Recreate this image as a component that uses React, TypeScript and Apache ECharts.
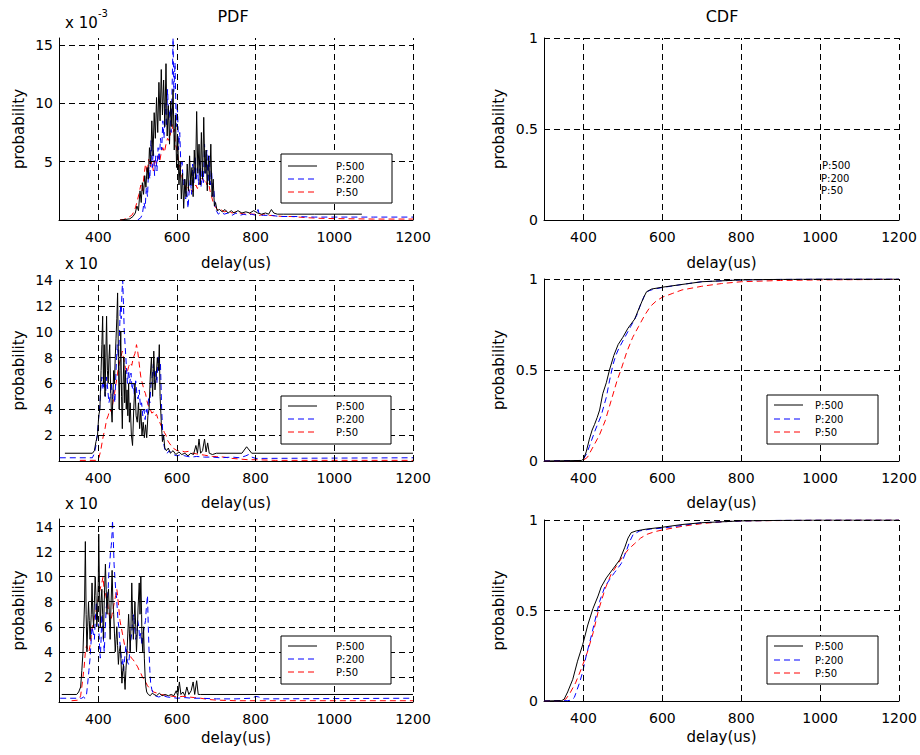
import React, { useEffect, useRef } from "react";
import * as echarts from "echarts";

// ---------- tick values ----------
const xLabelTicks = [400, 600, 800, 1000, 1200];
const yTicksPdfTop = [5, 10, 15];
const yTicksPdfLow = [2, 4, 6, 8, 10, 12, 14];
const yTicksCdf = [0, 0.5, 1];
const legendNames = ["P:500", "P:200", "P:50"];

// ---------- PDF row 1 (x 10^-3) ----------
const pdf1_500 = [[455,0],[470,0.05],[480,0.1],[488,0.3],[494,0.6],[498,1.2],[502,0.8],[506,2.5],[509,1.5],[512,3.2],[515,2.2],[518,3.8],[521,2.8],[524,4.5],[527,3.5],[530,6.2],[533,4.8],[536,8.5],[539,5.5],[542,9.2],[545,7],[548,10.5],[551,7.5],[554,11.8],[557,8.5],[560,12.9],[563,9],[566,12],[569,8],[572,13.4],[575,7.2],[578,9.8],[581,6.5],[584,10.2],[587,8],[590,11.2],[593,6],[596,9],[599,4.5],[602,7],[605,3],[608,5],[611,1.8],[614,4],[617,1],[620,3.5],[623,2],[626,4.8],[629,2.5],[632,5.5],[635,3],[638,4.5],[641,2],[644,6],[647,3.5],[650,9.3],[653,4],[656,6.5],[659,3],[662,7.5],[665,3.5],[668,8.8],[671,4],[674,6],[677,2.5],[680,5.5],[683,3],[686,6.5],[689,2],[692,3.5],[695,1.2],[698,1.5],[702,0.8],[708,0.9],[715,0.7],[722,0.9],[730,0.6],[738,0.8],[745,0.6],[755,0.8],[765,0.6],[775,0.7],[785,0.6],[795,0.8],[805,0.6],[815,0.5],[825,0.6],[833,0.5],[840,0.9],[846,0.6],[855,0.5],[870,0.5],[900,0.5],[950,0.5],[1000,0.5],[1070,0.5]];
const pdf1_200 = [[500,0],[508,0.2],[512,0.5],[516,1.5],[519,1],[522,2.8],[525,2],[528,4.5],[531,3.5],[534,6.8],[537,4.5],[540,6],[543,3.8],[546,5.5],[549,4.2],[552,6.2],[555,5],[558,7],[561,6],[564,8.5],[567,7],[570,10],[573,8],[576,11.2],[579,8.5],[582,9.5],[585,7.5],[588,12],[590,15.6],[592,11],[595,13.5],[598,8],[601,10],[604,6],[607,7.5],[610,4.5],[613,5],[616,3],[619,3.5],[622,1.8],[625,2.5],[628,1],[631,2.5],[634,3.5],[637,2.2],[640,4.8],[643,3.2],[646,5.5],[649,3.5],[652,4.5],[655,3],[658,5],[661,2.8],[664,4.5],[667,3.2],[670,6.5],[673,4],[676,6],[679,3.2],[682,5.5],[685,3],[688,4.2],[691,2],[694,2.5],[697,1],[700,0.8],[705,0.5],[712,0.7],[720,0.5],[730,0.6],[740,0.4],[750,0.6],[760,0.4],[770,0.5],[780,0.4],[790,0.5],[800,0.4],[806,0.9],[810,0.4],[820,0.4],[840,0.4],[860,0.3],[900,0.3],[950,0.25],[1000,0.25],[1100,0.25],[1200,0.25]];
const pdf1_50 = [[455,0],[465,0.05],[475,0.2],[485,0.4],[492,0.8],[498,1.5],[503,2.2],[508,3],[512,2.5],[516,3.8],[520,4.8],[524,4],[528,5.2],[532,4.5],[536,5],[540,4.2],[544,5.3],[548,4.8],[552,5.5],[556,5],[560,5.8],[564,6.2],[568,5.8],[572,6.5],[576,7],[580,6.8],[584,7.5],[587,8.2],[590,7.5],[593,7.8],[596,6.5],[600,6],[604,5],[608,4.5],[612,3.8],[616,3.2],[620,3],[624,2.5],[628,2.8],[632,2.3],[636,2.6],[640,2.4],[644,2.8],[648,3],[652,2.7],[656,3.2],[660,3],[664,3.6],[668,3.3],[672,3.5],[676,3],[680,3.2],[684,2.5],[688,2],[692,1.5],[696,1.2],[700,1],[706,0.8],[712,0.9],[720,0.7],[730,0.8],[740,0.6],[750,0.7],[760,0.6],[770,0.5],[780,0.6],[790,0.5],[800,0.5],[810,0.4],[820,0.5],[835,0.4],[850,0.35],[870,0.3],[890,0.3],[910,0.25],[930,0.2],[960,0.15],[1000,0.12],[1050,0.1],[1100,0.08],[1200,0.08]];

// ---------- PDF row 2 (x 10) ----------
const pdf2_500 = [[315,0.6],[385,0.6],[390,0.8],[394,1.5],[398,2],[401,3.5],[404,4],[407,7],[409,9],[411,11.2],[413,6],[415,9],[417,5],[419,8],[421,11.2],[423,7],[425,6],[427,8],[429,9],[431,6],[433,4],[435,3],[437,5],[439,7],[441,6],[443,8],[445,9.5],[447,11],[449,13],[451,8],[453,4],[455,7],[457,10],[459,5],[461,2.5],[463,6],[465,8],[467,4.5],[469,7],[471,4],[473,5.5],[475,3.5],[477,6],[479,3],[481,4.5],[484,2],[487,1.2],[490,4],[493,6],[496,3.5],[499,3],[502,4.5],[505,2.5],[508,4],[511,2],[514,3],[517,1.8],[520,2.8],[523,1.8],[526,3.5],[529,4],[532,6.5],[535,8],[538,5],[541,8.5],[544,5.5],[547,6.5],[550,8],[553,7],[555,9],[557,5],[560,3],[563,1.5],[566,2],[569,1],[573,0.8],[578,1],[583,0.6],[590,0.8],[597,0.5],[605,0.7],[612,0.5],[620,0.6],[628,0.4],[635,0.6],[642,0.5],[648,1.2],[652,0.6],[656,1.7],[660,0.6],[665,0.8],[670,1.7],[674,0.7],[678,1.4],[682,0.6],[690,0.5],[700,0.6],[765,0.6],[777,1.1],[790,0.6],[1200,0.6]];
const pdf2_200 = [[302,0.25],[385,0.25],[390,0.6],[394,1.2],[397,2],[400,3],[403,4],[406,5.5],[409,6.5],[412,5.5],[415,6.3],[418,5],[421,6.5],[424,5.5],[427,4.5],[430,5],[433,6],[436,4.8],[439,5.5],[442,4.5],[445,7],[448,9],[451,8],[454,10],[456,12],[458,11],[460,13],[462,14],[464,12],[466,10],[468,9],[471,7.5],[474,6],[477,7],[480,6],[483,6.8],[486,5.5],[489,6],[492,5],[495,6.2],[498,5.2],[501,4.8],[504,5.5],[507,4.2],[510,4.5],[513,3.5],[516,4],[519,3.2],[522,4],[525,3.5],[528,5],[531,4.5],[534,6],[537,6.5],[540,7.5],[543,6],[546,7],[549,6],[552,8.2],[555,7],[558,7.5],[561,4],[564,2],[567,1.2],[570,0.8],[575,0.6],[580,0.8],[590,0.5],[600,0.4],[610,0.5],[620,0.4],[635,0.3],[650,0.35],[670,0.3],[690,0.3],[710,0.25],[740,0.3],[760,0.25],[775,0.4],[782,0.5],[790,0.3],[800,0.2],[1200,0.25]];
const pdf2_50 = [[353,0.05],[398,0.05],[402,0.3],[406,0.8],[410,1.5],[413,2],[417,2.5],[421,3.2],[425,3.5],[429,4],[433,3.8],[437,4.5],[441,5.2],[445,6],[449,6.8],[453,7.5],[457,8],[461,8.5],[465,7.8],[469,7.2],[473,6.8],[477,7.3],[481,7.6],[485,7.4],[489,8],[493,8.3],[497,9],[500,8.5],[504,7.5],[508,6.5],[512,6],[516,5.5],[520,5.2],[524,4.6],[528,4.2],[532,4],[536,3.7],[540,3.8],[544,3.5],[548,3.6],[552,3.2],[556,3],[560,2.7],[564,2.5],[568,2.2],[572,2],[576,1.6],[580,1.4],[585,1.2],[590,1],[595,0.9],[600,0.8],[610,0.8],[620,0.7],[630,0.75],[640,0.6],[650,0.55],[660,0.5],[670,0.45],[680,0.4],[690,0.35],[700,0.35],[720,0.3],[740,0.2],[760,0.15],[780,0.1],[800,0.1],[850,0.05],[1200,0.05]];

// ---------- PDF row 3 (x 10) ----------
const pdf3_500 = [[307,0.6],[345,0.6],[350,0.8],[355,1.2],[358,2.5],[361,4],[363,6],[365,8],[367,12.8],[369,7],[371,4],[373,6],[375,8],[377,6.5],[379,5],[382,7],[384,9.5],[386,7],[388,6],[390,8],[392,10],[394,8.5],[396,6],[398,7],[400,10],[401,13.4],[403,9],[405,6],[407,8],[409,9],[411,7],[413,5],[415,8],[418,11],[420,9],[422,7],[424,8.5],[426,9],[428,7],[430,5],[432,7.5],[435,10.5],[437,8],[439,7],[441,5.5],[443,4],[445,5],[447,6],[449,4.5],[451,3],[453,4],[456,4.5],[458,3],[460,1.5],[462,2.5],[464,3],[466,2],[468,1],[470,2.5],[473,4],[475,5.5],[477,7],[479,5.5],[481,4],[483,6],[485,9.5],[487,7],[489,5],[491,6.5],[493,8],[495,6],[497,4],[499,5.5],[501,7.5],[504,9.5],[506,7],[508,10],[510,7],[511,5],[513,4],[515,6],[517,3.5],[519,2],[521,1.2],[523,0.8],[527,0.6],[532,0.5],[537,0.7],[542,0.6],[548,0.5],[555,0.7],[562,0.5],[570,0.6],[578,0.5],[585,0.6],[592,0.5],[598,0.9],[602,0.5],[606,1.6],[610,0.6],[615,0.8],[620,0.5],[625,1.2],[630,0.6],[636,0.9],[641,1.6],[645,0.6],[650,1.7],[654,0.6],[660,0.6],[1200,0.6]];
const pdf3_200 = [[303,0.3],[358,0.3],[362,0.4],[366,0.3],[370,0.6],[373,1.5],[376,2.5],[379,3.5],[382,5],[384,6],[387,5.5],[390,5],[393,7],[395,8],[398,6.5],[401,6],[403,4.5],[405,3.5],[407,5],[409,7],[412,5.5],[415,4],[418,6],[420,7.5],[422,8],[425,9],[427,10.5],[429,11],[431,12],[433,12.5],[435,13.5],[436,14.5],[438,13],[440,11],[442,10],[444,9],[446,8.5],[448,7.5],[450,6.5],[452,6],[454,5],[457,4],[460,3],[462,3.5],[464,2.5],[467,3.5],[470,4.5],[472,3.8],[474,3.2],[477,3],[480,4],[483,5],[485,5.5],[487,6.5],[490,7],[492,6],[495,5],[498,5.5],[500,6.5],[503,6],[505,5],[508,5.5],[511,4.5],[514,5.5],[517,6],[520,6.5],[522,7.5],[525,8.5],[527,6],[529,4],[531,2.5],[533,1.5],[536,1],[540,0.6],[545,0.5],[553,0.4],[565,0.5],[575,0.4],[590,0.35],[600,0.3],[620,0.35],[640,0.3],[660,0.3],[700,0.25],[750,0.25],[790,0.3],[800,0.45],[808,0.4],[820,0.25],[1200,0.3]];
const pdf3_50 = [[332,0.1],[350,0.15],[355,0.5],[358,1.2],[361,2],[364,2.8],[367,4],[370,4.5],[373,4.2],[376,4],[379,4.5],[382,5.2],[385,6],[388,6.5],[391,7],[394,7.2],[397,7.8],[400,8.2],[403,8.8],[406,9.2],[409,9.5],[412,10],[414,9.2],[416,8.5],[418,8.8],[420,8.3],[423,8],[426,7.2],[429,6.8],[432,6.5],[435,7],[438,7.5],[441,8],[444,8.5],[447,9],[449,8.5],[452,7.5],[455,6.5],[458,6],[461,5.5],[464,5],[467,4.5],[470,4.2],[473,4],[476,4],[480,3.8],[484,3.5],[488,3.4],[492,3.2],[496,3],[500,2.8],[504,2.5],[508,2.3],[512,2],[516,1.8],[520,1.6],[525,1.3],[530,1.1],[535,1],[540,0.8],[550,0.7],[560,0.6],[570,0.55],[580,0.5],[590,0.45],[600,0.4],[615,0.45],[630,0.4],[645,0.35],[660,0.3],[680,0.2],[700,0.15],[750,0.1],[800,0.1],[1200,0.1]];

// ---------- CDF row 2 ----------
const cdf2_500 = [[300,0],[395,0.003],[400,0.01],[407,0.05],[415,0.12],[422,0.17],[428,0.2],[435,0.24],[441,0.28],[449,0.37],[458,0.43],[466,0.5],[477,0.58],[488,0.64],[500,0.68],[513,0.73],[530,0.78],[543,0.85],[553,0.9],[560,0.93],[573,0.945],[600,0.955],[650,0.97],[700,0.985],[750,0.99],[800,0.995],[900,0.998],[1000,1],[1200,1]];
const cdf2_200 = [[300,0],[395,0.003],[400,0.01],[408,0.04],[415,0.08],[430,0.17],[445,0.25],[458,0.35],[466,0.44],[475,0.53],[482,0.58],[490,0.62],[505,0.68],[520,0.74],[535,0.8],[545,0.86],[555,0.91],[565,0.935],[580,0.945],[600,0.953],[650,0.97],[700,0.985],[750,0.99],[800,0.995],[900,0.998],[1000,1],[1200,1]];
const cdf2_50 = [[300,0],[390,0.002],[400,0.005],[410,0.02],[425,0.08],[440,0.14],[455,0.22],[470,0.33],[485,0.44],[495,0.5],[510,0.6],[525,0.68],[540,0.74],[555,0.8],[570,0.85],[585,0.88],[600,0.9],[625,0.92],[650,0.94],[700,0.96],[750,0.975],[800,0.985],[900,0.992],[1000,0.995],[1200,0.998]];

// ---------- CDF row 3 ----------
const cdf3_500 = [[300,0],[345,0.002],[351,0.01],[360,0.05],[373,0.12],[385,0.22],[398,0.31],[411,0.42],[424,0.51],[437,0.58],[445,0.63],[458,0.68],[475,0.73],[492,0.78],[505,0.85],[513,0.9],[521,0.93],[534,0.94],[560,0.95],[600,0.96],[650,0.975],[700,0.985],[800,0.995],[900,0.998],[1000,1],[1200,1]];
const cdf3_200 = [[300,0],[360,0.002],[370,0.005],[377,0.02],[390,0.1],[398,0.16],[407,0.25],[420,0.36],[432,0.47],[441,0.55],[454,0.63],[466,0.67],[479,0.71],[496,0.76],[509,0.83],[517,0.88],[526,0.92],[543,0.94],[570,0.95],[600,0.955],[650,0.97],[700,0.985],[800,0.995],[900,0.998],[1000,1],[1200,1]];
const cdf3_50 = [[300,0],[350,0.002],[355,0.01],[365,0.04],[380,0.1],[395,0.18],[410,0.27],[425,0.38],[438,0.5],[455,0.62],[470,0.7],[485,0.75],[500,0.8],[515,0.84],[530,0.87],[545,0.9],[560,0.92],[580,0.935],[600,0.945],[650,0.965],[700,0.98],[750,0.99],[800,0.995],[1000,0.999],[1200,1]];

const FONT = "'DejaVu Sans', 'Liberation Sans', Arial, sans-serif";
const COLORS = ["#000000", "#0000ff", "#ff0000"];
const DASH = [6, 4];

export default function App() {
  const ref = useRef<HTMLDivElement>(null);

  useEffect(() => {
    if (!ref.current) return;
    const chart = echarts.init(ref.current, undefined, { renderer: "svg" });

    const panels = [
      { left: 59, top: 38, width: 354, height: 182, ymax: 15.6, yint: 5, yTicks: yTicksPdfTop, series: [pdf1_500, pdf1_200, pdf1_50], nameGap: 35, yGap: 33 },
      { left: 59, top: 280, width: 354, height: 181, ymax: 14, yint: 2, yTicks: yTicksPdfLow, series: [pdf2_500, pdf2_200, pdf2_50], nameGap: 34, yGap: 33 },
      { left: 59, top: 519, width: 354, height: 183, ymax: 14.6, yint: 2, yTicks: yTicksPdfLow, series: [pdf3_500, pdf3_200, pdf3_50], nameGap: 28, yGap: 33 },
      { left: 544, top: 38, width: 355, height: 182, ymax: 1, yint: 0.5, yTicks: yTicksCdf, series: [], nameGap: 35, yGap: 38 },
      { left: 544, top: 279, width: 355, height: 182, ymax: 1, yint: 0.5, yTicks: yTicksCdf, series: [cdf2_500, cdf2_200, cdf2_50], nameGap: 34, yGap: 38 },
      { left: 544, top: 520, width: 355, height: 181, ymax: 1, yint: 0.5, yTicks: yTicksCdf, series: [cdf3_500, cdf3_200, cdf3_50], nameGap: 28, yGap: 38 },
    ];

    const grid = panels.map((p) => ({ left: p.left, top: p.top, width: p.width, height: p.height }));

    const xAxis = panels.map((p, i) => ({
      type: "value",
      gridIndex: i,
      min: 300,
      max: 1200,
      interval: 100,
      name: "delay(us)",
      nameLocation: "middle",
      nameGap: p.nameGap,
      nameTextStyle: { color: "#000", fontSize: 15, fontFamily: FONT },
      axisLine: { show: true, onZero: false, lineStyle: { color: "#000", width: 1 } },
      axisTick: { show: false },
      splitLine: { show: false },
      axisLabel: {
        show: true,
        showMinLabel: true,
        showMaxLabel: true,
        color: "#000",
        fontSize: 14,
        fontFamily: FONT,
        margin: 10,
        formatter: (v: number) => (xLabelTicks.includes(Math.round(v)) ? String(Math.round(v)) : ""),
      },
    }));

    const yAxis = panels.map((p, i) => ({
      type: "value",
      gridIndex: i,
      min: 0,
      max: p.ymax,
      interval: p.yint,
      name: "probability",
      nameLocation: "middle",
      nameRotate: 90,
      nameGap: p.yGap,
      nameTextStyle: { color: "#000", fontSize: 15, fontFamily: FONT },
      axisLine: { show: true, onZero: false, lineStyle: { color: "#000", width: 1 } },
      axisTick: { show: false },
      splitLine: { show: false },
      axisLabel: {
        show: true,
        color: "#000",
        fontSize: 14,
        fontFamily: FONT,
        margin: 6,
        formatter: (v: number) => {
          const hit = p.yTicks.find((t) => Math.abs(t - v) < 1e-6);
          return hit === undefined ? "" : String(hit);
        },
      },
    }));

    const series: any[] = [];
    panels.forEach((p, i) => {
      // grid lines
      series.push({
        type: "line",
        xAxisIndex: i,
        yAxisIndex: i,
        data: [[300, 0]],
        symbol: "none",
        silent: true,
        z: 1,
        lineStyle: { opacity: 0 },
        markLine: {
          silent: true,
          symbol: ["none", "none"],
          label: { show: false },
          lineStyle: { color: "#000", width: 1, type: DASH },
          emphasis: { disabled: true },
          data: [
            ...xLabelTicks.map((v) => ({ xAxis: v })),
            ...p.yTicks.filter((v) => v > 0).map((v) => ({ yAxis: v })),
          ],
        },
      });
      p.series.forEach((d, k) => {
        series.push({
          type: "line",
          name: legendNames[k],
          xAxisIndex: i,
          yAxisIndex: i,
          data: d,
          symbol: "none",
          showSymbol: false,
          silent: true,
          z: 3 + (2 - k),
          lineStyle: { color: COLORS[k], width: 1, type: k === 0 ? "solid" : DASH },
        });
      });
    });

    const txt = (text: string, x: number, y: number, size: number, align = "left") => ({
      type: "text",
      x,
      y,
      z: 120,
      silent: true,
      style: { text, fill: "#000", fontSize: size, fontFamily: FONT, textAlign: align, textVerticalAlign: "middle" },
    });

    const legendBox = (bx: number, by: number, bw: number, bh: number, lx: number, tx: number, ys: number[]) => [
      {
        type: "rect",
        z: 110,
        silent: true,
        shape: { x: bx, y: by, width: bw, height: bh },
        style: { fill: "#fff", stroke: "#000", lineWidth: 1 },
      },
      ...ys.map((yy, k) => ({
        type: "line",
        z: 115,
        silent: true,
        shape: { x1: lx, y1: yy, x2: lx + 29, y2: yy },
        style: { stroke: COLORS[k], lineWidth: 1, lineDash: k === 0 ? null : DASH },
      })),
      ...ys.map((yy, k) => txt(legendNames[k], tx, yy, 10)),
    ];

    const graphic: any[] = [
      txt("PDF", 233, 16, 16, "center"),
      txt("CDF", 722, 16, 16, "center"),
      txt("x 10", 65, 23, 15),
      txt("-3", 98, 13, 10),
      txt("x 10", 65, 264, 15),
      txt("x 10", 65, 504, 15),
      ...legendBox(281, 154, 111, 49, 288, 336, [166, 179, 192]),
      ...legendBox(281, 396, 110, 48, 288, 336, [406, 419, 432]),
      ...legendBox(281, 636, 110, 48, 288, 336, [646, 659, 672]),
      ...legendBox(767, 395, 111, 49, 774, 815, [405, 419, 432]),
      ...legendBox(767, 636, 111, 48, 774, 815, [646, 660, 673]),
      txt("P:500", 822, 165, 10),
      txt("P:200", 821, 178, 10),
      txt("P:50", 821, 190, 10),
    ];

    chart.setOption({
      animation: false,
      backgroundColor: "#fff",
      grid,
      xAxis,
      yAxis,
      series,
      graphic,
    });

    return () => chart.dispose();
  }, []);

  return (
    <div
      ref={ref}
      style={{ position: "absolute", left: 0, top: 0, width: 920, height: 755, background: "#fff" }}
    />
  );
}
